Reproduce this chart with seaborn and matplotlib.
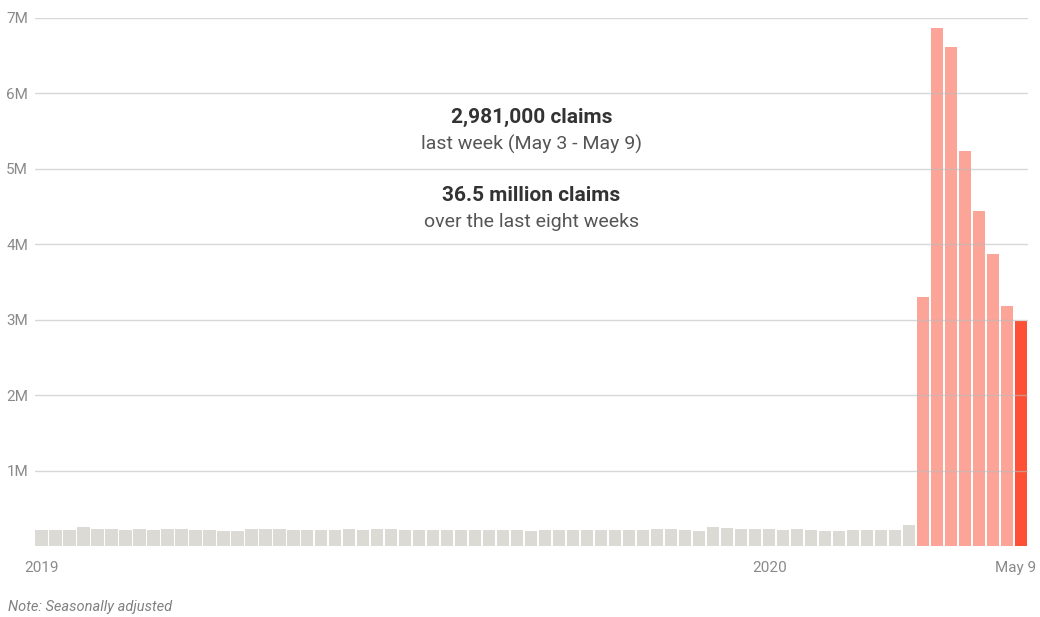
import numpy as np
import pandas as pd
import matplotlib
matplotlib.use("Agg")
import matplotlib.pyplot as plt
import seaborn as sns

# weekly initial jobless claims, millions (seasonally adjusted), week ending Saturday
CLAIMS_2019 = [
    0.218, 0.217, 0.216, 0.250, 0.230, 0.232, 0.214, 0.228, 0.214, 0.229,
    0.220, 0.216, 0.215, 0.200, 0.197, 0.230, 0.230, 0.229, 0.213, 0.212,
    0.215, 0.218, 0.220, 0.216, 0.228, 0.226, 0.211, 0.216, 0.208, 0.215,
    0.210, 0.218, 0.211, 0.215, 0.216, 0.206, 0.209, 0.213, 0.218, 0.211,
    0.214, 0.213, 0.218, 0.212, 0.227, 0.228, 0.213, 0.200, 0.250, 0.234,
    0.222, 0.220,
]
CLAIMS_2020 = [
    0.220, 0.214, 0.220, 0.216, 0.204, 0.204, 0.217, 0.219, 0.216, 0.216,
    0.282, 3.307, 6.867, 6.615, 5.237, 4.442, 3.867, 3.176, 2.981,
]
WEEKS = pd.date_range("2019-01-05", "2020-05-09", freq="W-SAT").strftime("%Y-%m-%d").tolist()
GROUPS = ["before"] * 63 + ["pandemic"] * 7 + ["latest"]
PALETTE = {"before": "#dcdad5", "pandemic": "#fba497", "latest": "#fd5037"}

Y_TICKS = [1, 2, 3, 4, 5, 6, 7]
Y_LABELS = ["1M", "2M", "3M", "4M", "5M", "6M", "7M"]
X_TICKS = ["2019-01-05", "2020-01-04", "2020-05-09"]
X_LABELS = ["2019", "2020", "May 9"]

df = pd.DataFrame({
    "week": WEEKS,
    "claims": CLAIMS_2019 + CLAIMS_2020,
    "group": GROUPS,
})

sns.set_style("white")
plt.rcParams["font.family"] = ["Roboto", "DejaVu Sans"]

fig = plt.figure(figsize=(10.4, 6.17), dpi=100)
ax = fig.add_axes([0.0337, 0.115, 0.955, 0.856])

sns.barplot(data=df, x="week", y="claims", hue="group", palette=PALETTE,
            dodge=False, width=0.89, legend=False, ax=ax, zorder=1,
            edgecolor="none", saturation=1)

ax.set_ylim(0, 7)
ax.set_xlim(-0.445, 70.5)
ax.set_yticks(Y_TICKS)
ax.set_yticklabels(Y_LABELS)
xt = [WEEKS.index(w) for w in X_TICKS]
xt[-1] -= 0.4  # keep "May 9" inside the figure
ax.set_xticks(xt)
ax.set_xticklabels(X_LABELS)
ax.tick_params(axis="both", length=0, colors="#8a8a8a", labelsize=11)
ax.tick_params(axis="y", pad=5)
ax.tick_params(axis="x", pad=11)
ax.set_xlabel("")
ax.set_ylabel("")
for s in ax.spines.values():
    s.set_visible(False)

for y in Y_TICKS:
    ax.axhline(y, color="#bdbdbd", alpha=0.6, linewidth=1.0, zorder=3)

cx = 35.0
ax.text(cx, 5.68, "2,981,000 claims", ha="center", va="center",
        fontsize=15, fontweight="bold", color="#333333")
ax.text(cx, 5.32, "last week (May 3 - May 9)", ha="center", va="center",
        fontsize=14, color="#555555")
ax.text(cx, 4.64, "36.5 million claims", ha="center", va="center",
        fontsize=15, fontweight="bold", color="#333333")
ax.text(cx, 4.30, "over the last eight weeks", ha="center", va="center",
        fontsize=14, color="#555555")

fig.text(0.008, 0.016, "Note: Seasonally adjusted", ha="left", va="center",
         fontsize=10.5, style="italic", color="#808080")

fig.savefig("out.png", dpi=100)
